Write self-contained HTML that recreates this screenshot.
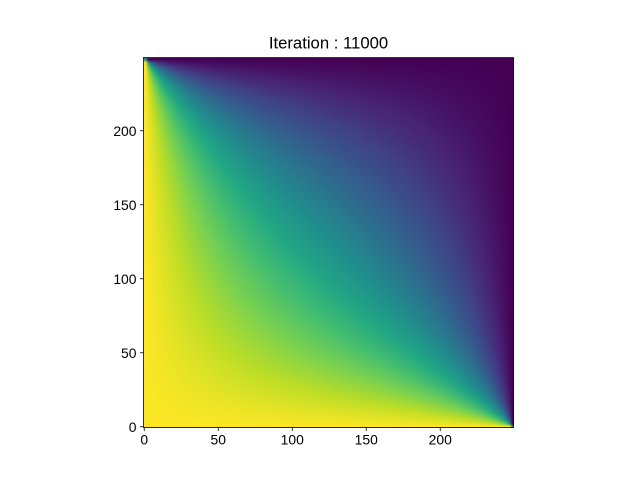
<!DOCTYPE html>
<html><head><meta charset="utf-8"><style>
body{margin:0;background:#fff;width:640px;height:480px;overflow:hidden;font-family:"Liberation Sans","DejaVu Sans",sans-serif}
#wrap{position:relative;width:640px;height:480px}
canvas{position:absolute;left:143.5px;top:57.5px;width:370px;height:370px}
svg{position:absolute;left:0;top:0}
</style></head><body>
<div id="wrap">
<canvas id="hm" width="125" height="125"></canvas>
<svg id="ax" width="640" height="480"></svg>
</div>
<script>
// Boundary conditions (temperatures) and axis data
const leftBoundary = [1];
const bottomBoundary = [1];
const topBoundary = [0];
const rightBoundary = [0];
const xTicks = [0, 50, 100, 150, 200];
const yTicks = [0, 50, 100, 150, 200];
const gridSize = 250;
const titleText = "Iteration : 11000";

const viridis = [[68,1,84],[72,35,116],[64,67,135],[52,94,141],[41,120,142],[32,144,140],[34,167,132],[68,190,112],[121,209,81],[189,222,38],[253,231,37]];
function cmap(v){v=Math.max(0,Math.min(1,v));const p=v*(viridis.length-1);const i=Math.min(Math.floor(p),viridis.length-2);const f=p-i;
return viridis[i].map((c,k)=>Math.round(c+(viridis[i+1][k]-c)*f));}

const N=125;
const u=[];for(let j=0;j<N;j++){u.push(new Float64Array(N).fill(0.5));}
function applyBC(){for(let k=0;k<N;k++){u[k][0]=leftBoundary[0];u[k][N-1]=rightBoundary[0];}
for(let k=0;k<N;k++){u[0][k]=bottomBoundary[0];u[N-1][k]=topBoundary[0];}
u[0][0]=(leftBoundary[0]+bottomBoundary[0])/2;u[N-1][N-1]=(topBoundary[0]+rightBoundary[0])/2;
u[N-1][0]=(leftBoundary[0]+topBoundary[0])/2;u[0][N-1]=(bottomBoundary[0]+rightBoundary[0])/2;}
applyBC();
const w=1.95;
for(let it=0;it<600;it++){for(let j=1;j<N-1;j++){const r=u[j],a=u[j-1],b=u[j+1];for(let i=1;i<N-1;i++){r[i]+=w*(0.25*(r[i-1]+r[i+1]+a[i]+b[i])-r[i]);}}}
const cv=document.getElementById('hm');const ctx=cv.getContext('2d');const img=ctx.createImageData(N,N);
for(let j=0;j<N;j++)for(let i=0;i<N;i++){const c=cmap(u[j][i]);const o=((N-1-j)*N+i)*4;img.data[o]=c[0];img.data[o+1]=c[1];img.data[o+2]=c[2];img.data[o+3]=255;}
ctx.putImageData(img,0,0);

const svg=document.getElementById('ax');const NS='http://www.w3.org/2000/svg';
const L=143.5,T=57.5,S=370;
const xs=v=>L+(v+0.5)/gridSize*S, ys=v=>T+S-(v+0.5)/gridSize*S;
function el(t,a){const e=document.createElementNS(NS,t);for(const k in a)e.setAttribute(k,a[k]);svg.appendChild(e);return e;}
const fr=el('rect',{x:L,y:T,width:S,height:S,fill:'none',stroke:'#000','stroke-width':0.8});


xTicks.forEach(v=>{const x=xs(v);
const t=el('line',{x1:x,x2:x,y1:T+S,y2:T+S+3.5,stroke:'#000','stroke-width':0.8});


const l=el('text',{x:x,y:T+S+17,'text-anchor':'middle','font-size':13.9});l.textContent=v;

});
yTicks.forEach(v=>{const y=ys(v);
const t=el('line',{x1:L-3.5,x2:L,y1:y,y2:y,stroke:'#000','stroke-width':0.8});


const l=el('text',{x:L-7,y:y+5,'text-anchor':'end','font-size':13.9});l.textContent=v;

});
const ti=el('text',{x:L+S/2,y:T-9,'text-anchor':'middle','font-size':16.7});ti.textContent=titleText;


</script>
</body></html>
